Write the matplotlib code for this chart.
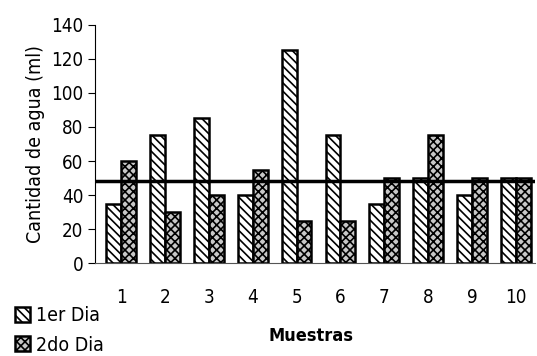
import matplotlib.pyplot as plt
import numpy as np

plt.rcParams['font.family'] = ['DejaVu Sans']
plt.rcParams['font.stretch'] = 'condensed'
plt.rcParams['hatch.linewidth'] = 1.2

# Data
muestras = ['1', '2', '3', '4', '5', '6', '7', '8', '9', '10']
dia1 = [35, 75, 85, 40, 125, 75, 35, 50, 40, 50]
dia2 = [60, 30, 40, 55, 25, 25, 50, 75, 50, 50]
promedio = 48

fig = plt.figure(figsize=(5.37, 3.56), dpi=100)
ax = fig.add_axes([0.177, 0.261, 0.82, 0.669])

x = np.arange(len(muestras))
w = 0.34
ax.bar(x - w / 2, dia1, w, color='white', edgecolor='black', hatch='\\\\\\\\', lw=1.8, label='1er Dia')
ax.bar(x + w / 2, dia2, w, color='#c8c8c8', edgecolor='black', hatch='xxxx', lw=1.8, label='2do Dia')

ax.axhline(promedio, color='black', lw=2.5)

ax.set_xlim(-0.6, 9.45)
ax.set_ylim(0, 140)
ax.set_yticks(range(0, 141, 20))
ax.set_xticks(x)
ax.set_xticklabels(muestras, fontsize=13.5)
ax.tick_params(axis='x', length=0, pad=18)
ax.tick_params(axis='y', labelsize=13.5, length=5, direction='out')
for s in ['top', 'right']:
    ax.spines[s].set_visible(False)
ax.spines['bottom'].set_color('#555555')

ax.set_ylabel('Cantidad de agua (ml)', fontsize=14)
ax.set_xlabel('Muestras', fontsize=13, fontweight='bold')
ax.xaxis.set_label_coords(0.49, -0.27)

fig.legend(loc='lower left', bbox_to_anchor=(-0.005, -0.045), frameon=False, fontsize=14,
           handlelength=0.8, handleheight=0.8, handletextpad=0.3, labelspacing=0.55)

plt.savefig('out.png')
